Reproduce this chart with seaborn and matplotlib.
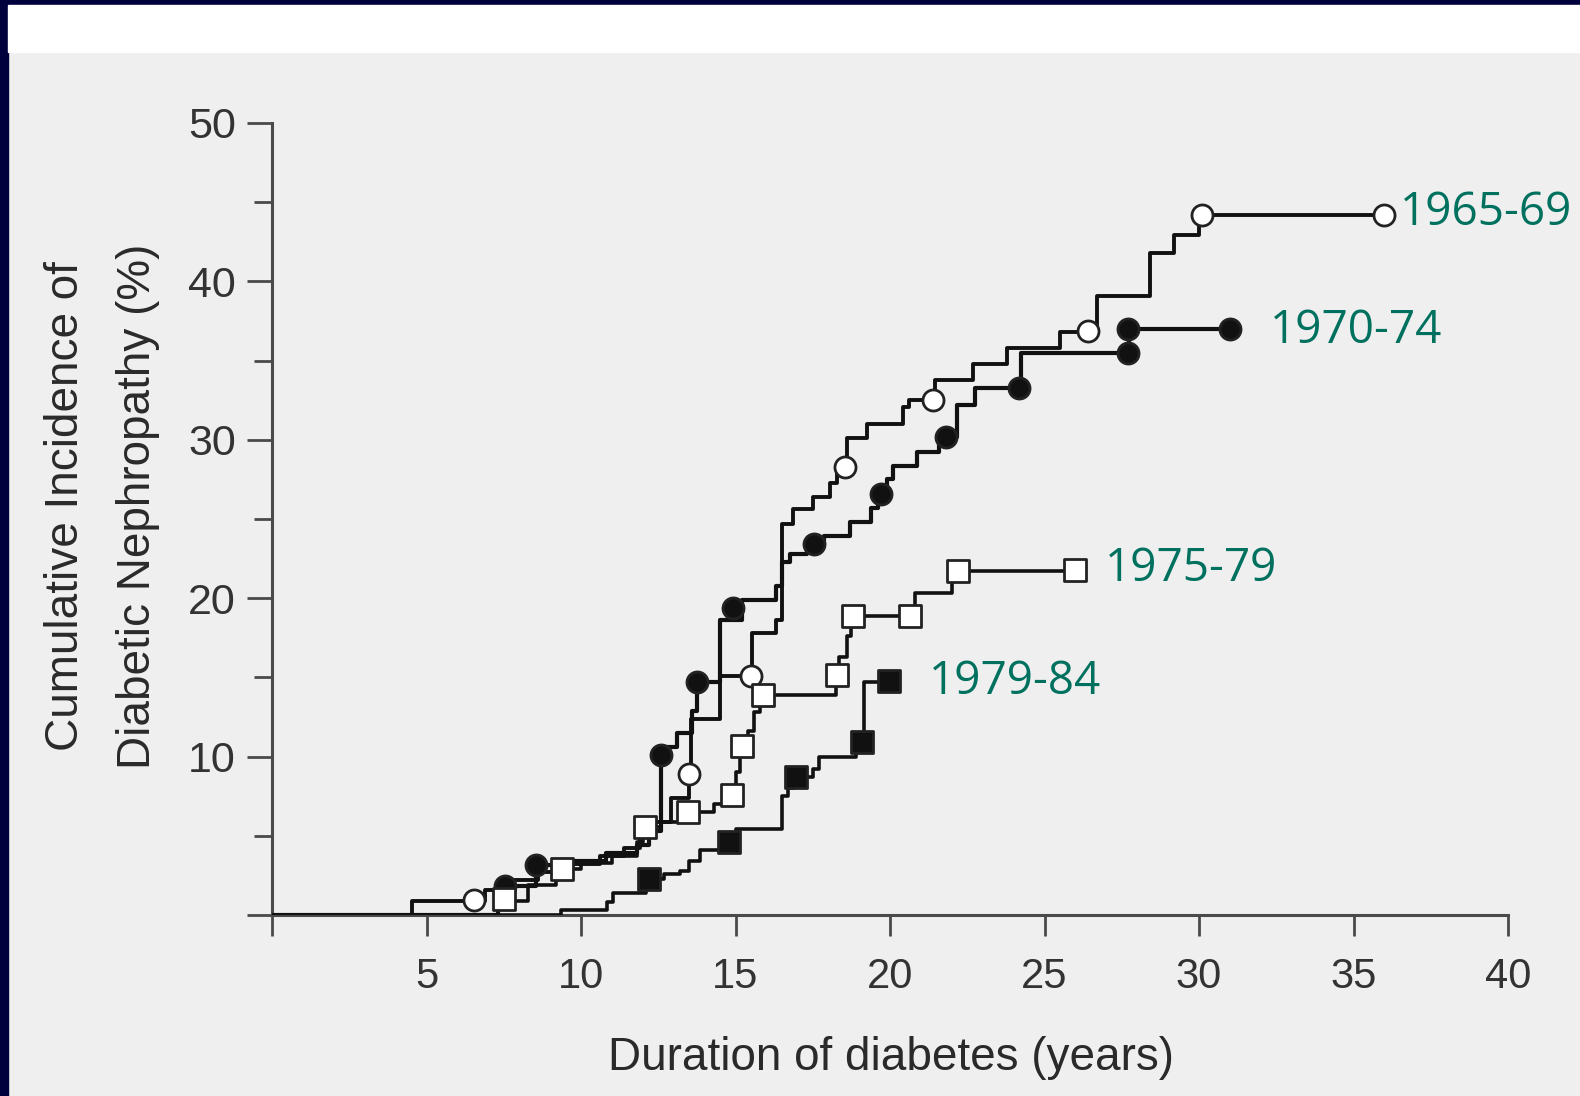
import matplotlib
matplotlib.use("Agg")
import matplotlib.pyplot as plt
import numpy as np
import pandas as pd
import seaborn as sns
from matplotlib.patches import Rectangle
from matplotlib.ticker import FixedLocator

# ---------------- data ----------------
# step curves: x = duration (years) where a step occurs, y = cumulative % after the step
c6569_x = [0, 4.54, 6.9, 7.8, 8.6, 9.6, 10.6, 11.4, 11.9, 12.3, 12.9, 13.5, 13.57, 14.5, 15.55, 16.3, 16.5,
           16.87, 17.52, 18.06, 18.3, 18.6, 19.25, 20.43, 20.6, 21.45, 22.7, 23.8, 25.5, 26.7, 28.4, 29.2,
           30.0, 36.0]
c6569_y = [0, 0.88, 1.6, 2.2, 2.7, 3.2, 3.7, 4.2, 5.0, 5.9, 7.4, 8.9, 12.4, 15.1, 17.8, 18.6, 24.7,
           25.6, 26.4, 27.25, 28.3, 30.1, 31.0, 32.1, 32.5, 33.8, 34.8, 35.8, 36.8, 39.1, 41.8, 42.9,
           44.2, 44.2]
c6569_mx = [6.53, 13.5, 15.5, 18.54, 21.4, 26.4, 30.1, 36.0]
c6569_my = [0.95, 8.9, 15.1, 28.3, 32.5, 36.9, 44.2, 44.2]

c7074_x = [0, 7.3, 7.53, 8.55, 9.6, 10.8, 11.8, 12.2, 12.6, 12.75, 13.1, 13.6, 13.75, 14.5, 15.2, 16.3,
           16.5, 16.75, 17.3, 17.85, 18.72, 19.4, 19.6, 19.9, 20.1, 20.86, 21.6, 22.16, 22.75, 24.24,
           27.72, 31.0]
c7074_y = [0, 1.0, 1.8, 3.16, 3.4, 3.9, 4.4, 5.3, 10.1, 10.6, 11.5, 12.9, 14.7, 18.6, 19.9, 20.8,
           22.3, 22.8, 23.4, 23.9, 24.8, 25.7, 26.6, 27.5, 28.35, 29.25, 30.2, 32.2, 33.3, 35.45,
           37.0, 37.0]
c7074_mx = [7.53, 8.55, 12.6, 13.75, 14.92, 17.55, 19.72, 21.8, 24.18, 27.7, 27.7, 31.0]
c7074_my = [1.8, 3.16, 10.1, 14.7, 19.36, 23.4, 26.6, 30.2, 33.3, 35.45, 37.0, 37.0]

c7579_x = [0, 7.3, 8.3, 9.2, 10.0, 11.0, 11.8, 12.0, 12.6, 13.3, 14.3, 14.8, 15.0, 15.15, 15.4, 15.6,
           15.8, 18.25, 18.35, 18.6, 18.75, 20.8, 22.0, 22.15, 26.0]
c7579_y = [0, 0.9, 1.9, 2.9, 3.3, 3.7, 4.6, 5.57, 5.9, 6.5, 7.0, 7.6, 9.0, 10.7, 11.6, 12.8,
           13.9, 15.15, 16.3, 17.6, 18.9, 20.3, 21.1, 21.7, 21.8]
c7579_mx = [7.5, 9.4, 12.08, 13.47, 14.9, 15.2, 15.9, 18.28, 18.8, 20.65, 22.2, 26.0]
c7579_my = [1.0, 2.9, 5.57, 6.5, 7.6, 10.7, 13.9, 15.15, 18.9, 18.9, 21.7, 21.8]

c7984_x = [0, 9.34, 10.84, 11.05, 12.1, 12.7, 13.2, 13.5, 13.84, 14.7, 15.0, 16.5, 16.7, 16.9, 17.5,
           17.7, 18.9, 19.15, 19.9]
c7984_y = [0, 0.3, 0.84, 1.4, 2.3, 2.6, 2.8, 3.4, 4.1, 4.6, 5.4, 7.5, 8.0, 8.7, 9.2,
           10.0, 10.94, 14.7, 14.8]
c7984_mx = [12.2, 14.8, 16.96, 19.1, 19.96]
c7984_my = [2.3, 4.6, 8.7, 10.94, 14.8]

cohort_names = ["1965-69", "1970-74", "1975-79", "1979-84"]
label_x = [36.5, 32.3, 26.95, 21.25]
label_y = [43.56, 36.08, 21.1, 13.95]

x_ticks = [0, 5, 10, 15, 20, 25, 30, 35, 40]
x_ticklabels = ["", "5", "10", "15", "20", "25", "30", "35", "40"]
y_ticks = [0, 10, 20, 30, 40, 50]
y_ticklabels = ["", "10", "20", "30", "40", "50"]
y_minor = [5, 15, 25, 35, 45]

# ---------------- styling ----------------
sns.set_theme(style="white")
plt.rcParams["font.family"] = ["Liberation Sans", "DejaVu Sans"]

W, H = 1580, 1096
fig = plt.figure(figsize=(W / 100, H / 100), dpi=100, facecolor="#efefef")

# slide frame: navy top/left band and white strip
fig.patches.append(Rectangle((0, 1 - 5 / H), 1, 5 / H, transform=fig.transFigure,
                             color="#00003c", zorder=0))
fig.patches.append(Rectangle((0, 0), 8 / W, 1, transform=fig.transFigure,
                             color="#00003c", zorder=0))
fig.patches.append(Rectangle((8 / W, 1 - 52 / H), 1, 47 / H, transform=fig.transFigure,
                             color="white", zorder=0))

x0, x40, y0, y50 = 272, 1508, 915, 123
ax = fig.add_axes([x0 / W, 1 - y0 / H, (x40 - x0) / W, (y0 - y50) / H])
ax.set_facecolor("none")

line_col = "#111111"
curves = [
    (c6569_x, c6569_y, c6569_mx, c6569_my, "o", "white", 2.8),
    (c7074_x, c7074_y, c7074_mx, c7074_my, "o", line_col, 3.0),
    (c7579_x, c7579_y, c7579_mx, c7579_my, "s", "white", 2.6),
    (c7984_x, c7984_y, c7984_mx, c7984_my, "s", line_col, 2.6),
]
for cx, cy, mx, my, mk, face, lw in curves:
    df = pd.DataFrame({"x": cx, "y": cy})
    sns.lineplot(data=df, x="x", y="y", ax=ax, estimator=None, sort=False,
                 drawstyle="steps-post", color=line_col, linewidth=lw, zorder=3,
                 legend=False)
for cx, cy, mx, my, mk, face, lw in curves:
    sns.scatterplot(x=mx, y=my, ax=ax, marker=mk, s=230, color=face,
                    edgecolor="#222222", linewidth=2.0, zorder=5, legend=False,
                    clip_on=False)

for name, lx, ly in zip(cohort_names, label_x, label_y):
    ax.text(lx, ly, name, fontsize=33, color="#00705f", family=["Open Sans", "DejaVu Sans"],
            ha="left", va="baseline", clip_on=False)

ax.set_xlim(0, 40)
ax.set_ylim(0, 50)
for s in ["top", "right"]:
    ax.spines[s].set_visible(False)
for s in ["left", "bottom"]:
    ax.spines[s].set_color("#4a4a4a")
    ax.spines[s].set_linewidth(2.2)

ax.xaxis.set_major_locator(FixedLocator(x_ticks))
ax.set_xticklabels(x_ticklabels)
ax.yaxis.set_major_locator(FixedLocator(y_ticks))
ax.set_yticklabels(y_ticklabels)
ax.yaxis.set_minor_locator(FixedLocator(y_minor))
ax.tick_params(axis="x", which="major", direction="out", length=15, width=2,
               color="#4a4a4a", labelsize=30, labelcolor="#333333", pad=15, bottom=True)
ax.tick_params(axis="y", which="major", direction="out", length=18, width=2,
               color="#4a4a4a", labelsize=31, labelcolor="#333333", pad=8, left=True)
ax.tick_params(axis="y", which="minor", direction="out", length=13, width=2,
               color="#4a4a4a", left=True)

xl = ax.set_xlabel("Duration of diabetes (years)", fontsize=33, color="#2a2a2a")
ax.xaxis.set_label_coords(0.5008, (y0 - 1070) / (y0 - y50))
xl.set_verticalalignment("baseline")

yl = ax.set_ylabel("Cumulative Incidence of\nDiabetic Nephropathy (%)", fontsize=33,
                   color="#2a2a2a", linespacing=1.8)
ax.yaxis.set_label_coords((102 - x0) / (x40 - x0), (y0 - 506) / (y0 - y50))
yl.set_verticalalignment("center")

fig.savefig("out.png", dpi=100, facecolor=fig.get_facecolor())
